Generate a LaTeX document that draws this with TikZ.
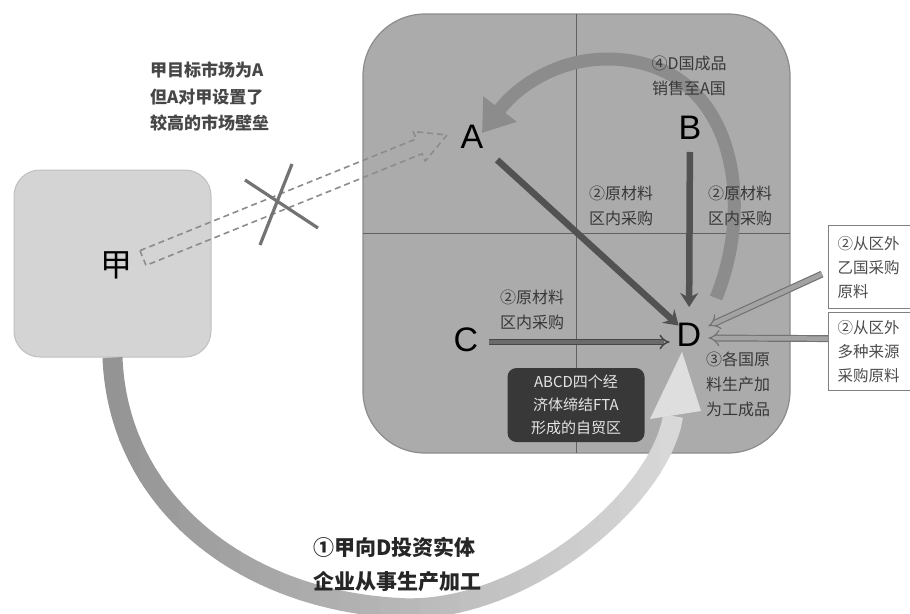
\documentclass[tikz,border=0pt]{standalone}
\usepackage{fontspec}
\setmainfont{Noto Sans CJK SC}
\newfontfamily\latinsf{Liberation Sans}
\usetikzlibrary{arrows.meta,calc}
\begin{document}
\begin{tikzpicture}[x=1pt,y=-1pt,
  letter/.style={font=\latinsf\fontsize{34}{34}\selectfont, text=black, inner sep=1},
  inlbl/.style={font=\fontsize{16}{25}\selectfont, text=black!78, align=center, inner sep=1},
  solidarr/.style={draw=black!68, line width=6.5, -{Stealth[length=14pt,width=18pt]}},
  dblarr/.style={draw=black!72, double=black!58, double distance=3.5pt, line width=1.5pt, -{Implies}},
  dblarrlight/.style={draw=black!55, double=black!36, double distance=4.5pt, line width=1.2pt, -{Implies}},
  rbox/.style={draw=black!50, fill=white, line width=1.2, minimum width=100, anchor=north west,
     align=left, text width=82, inner sep=6, font=\fontsize{15.5}{24}\selectfont, text=black!70}
]
\useasboundingbox (0,0) rectangle (910,613);
\fill[white] (0,0) rectangle (910,613);

% big FTA region
\draw[fill=black!33, draw=black!45, line width=1.2, rounded corners=62] (363,14) rectangle (790,453);
\draw[black!62, line width=1] (576,14) -- (576,453);
\draw[black!62, line width=1] (363,233) -- (790,233);

% left box
\node[fill=black!17, draw=black!25, line width=1, rounded corners=26, minimum width=197, minimum height=187, inner sep=0] (jiabox) at (112.5,263.5) {};
\node[font=\fontsize{32}{32}\selectfont, inner sep=1] (jia) at (116,265) {甲};

% top-left text
\node[font=\bfseries\fontsize{17}{26.5}\selectfont, text=black!72, align=left, anchor=north west, inner sep=0] (goal) at (150,62) {甲目标市场为A\\但A对甲设置了\\较高的市场壁垒};

% dashed hollow arrow from jia toward A
\draw[black!45, line width=1.6, dash pattern=on 6pt off 4pt, line join=round]
  (140,250.6) -- (416.2,138.9) -- (413.2,131.5) -- (447,135) -- (425.2,161.1) -- (422.2,153.7) -- (146,265.4) -- cycle;

% cross
\draw[black!55, line width=3.2] (245,180) -- (318,228);
\draw[black!55, line width=3.2] (292,164) -- (260,245);

% letters
\node[letter] (A) at (472,137) {A};
\node[letter] (B) at (690,128) {B};
\node[letter] (C) at (466,340) {C};
\node[letter] (D) at (689,335) {D};

% curved arrow D -> A
\coordinate (arcS) at (716,298);
\coordinate (arcE) at (482,133);
\draw[draw=black!45, line width=13, -{Triangle[width=40pt,length=30pt]}]
  (arcS) .. controls (752,210) and (738,90) .. (645,64) .. controls (578,46) and (522,80) .. (arcE);

% intra-zone arrows
\draw[solidarr, shorten <=34pt, shorten >=14pt] (A.center) -- (D.center);
\draw[solidarr, shorten <=24pt, shorten >=28pt] (B.center) -- (D.center);
\draw[dblarr] ($(C.east)+(10,2)$) -- ($(D.west)+(-6,7)$);

% right boxes
\node[rbox, minimum height=83] (r1) at (828,225) {②从区外\\乙国采购\\原料};
\node[rbox, minimum height=78] (r2) at (828,312) {②从区外\\多种来源\\采购原料};
\draw[dblarrlight] ($(r1.west)+(-6,7)$) -- ($(D.east)+(6,-9)$);
\draw[dblarrlight] ($(r2.west)+(0,-13)$) -- ($(D.east)+(6,3)$);

% labels inside zone
\node[inlbl] (l4) at (689,76) {④D国成品\\销售至A国};
\node[inlbl] (l2a) at (621,206) {②原材料\\区内采购};
\node[inlbl] (l2b) at (740,206) {②原材料\\区内采购};
\node[inlbl] (l2c) at (532,310) {②原材料\\区内采购};
\node[inlbl, align=left] (l3) at (738,384) {③各国原\\料生产加\\为工成品};

% FTA label box
\node[fill=black!78, rounded corners=9, text=black!10, minimum width=137, minimum height=74, align=center, inner sep=2,
      font=\fontsize{15}{23}\selectfont] (fta) at (576,405) {ABCD四个经\\济体缔结FTA\\形成的自贸区};

% investment arrow from jia to D (gradient by vertical bands)
\coordinate (invS) at (jiabox.south);
\coordinate (invE) at (673,416);
\foreach \i in {0,...,29}{
  \pgfmathsetmacro{\xa}{100+20*\i-0.6}
  \pgfmathsetmacro{\xb}{100+20*\i+20.6}
  \pgfmathsetmacro{\shadeval}{42-0.95*\i}
  \begin{scope}
    \clip (\xa,340) rectangle (\xb,613);
    \draw[draw=black!\shadeval, line width=20]
      (invS) .. controls (118,500) and (240,600) .. (400,608) .. controls (520,615) and (660,500) .. (invE);
  \end{scope}
}
\coordinate (invT) at ($(D.south)+(-7,4)$);
\fill[black!13] (invT) -- (650,419) -- (701,411) -- cycle;

% bottom label
\node[font=\bfseries\fontsize{21}{34}\selectfont, text=black!85, align=left, inner sep=0] (inv) at (397,565) {①甲向D投资实体\\企业从事生产加工};
\end{tikzpicture}
\end{document}
